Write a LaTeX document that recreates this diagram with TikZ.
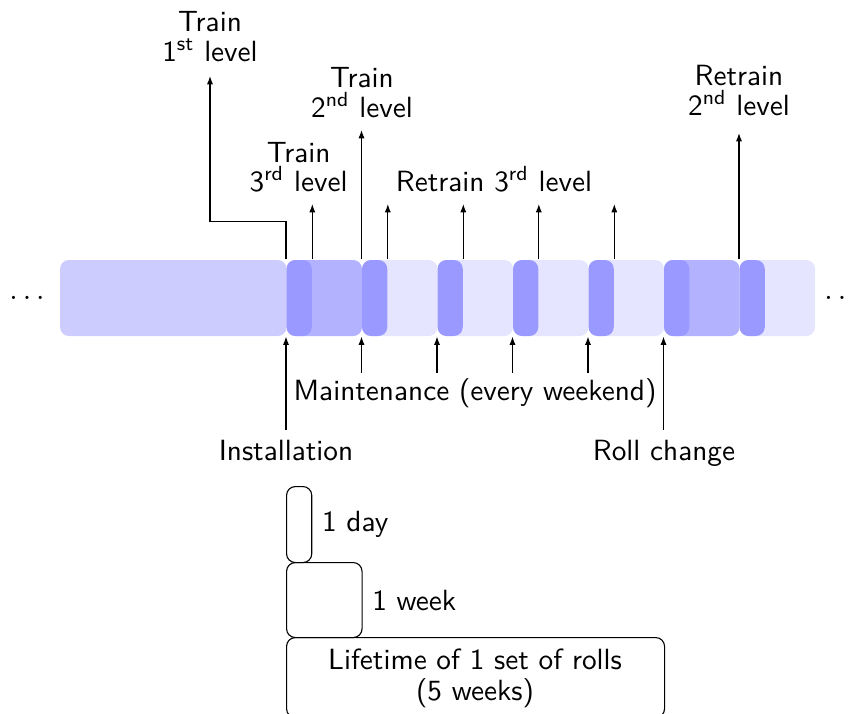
\documentclass[tikz,border=0pt]{standalone}
\usetikzlibrary{arrows.meta}
\colorlet{bigfill}{blue!20}
\colorlet{midfill}{blue!30}
\colorlet{lightfill}{blue!10}
\colorlet{dayfill}{blue!40}
\def\u{0.3623pt}
\tikzset{
  blk/.style={draw=none, inner sep=0pt, rounded corners=3.2pt, minimum height=76*\u, anchor=west},
  weekblk/.style={blk, minimum width=75.5*\u},
  dayblk/.style={blk, minimum width=25.2*\u, fill=dayfill},
  lbl/.style={align=center, inner sep=0pt},
  legendbox/.style={draw, line width=0.4pt, rounded corners=3.2pt, inner sep=0pt},
  arr/.style={-{Latex[length=3pt,width=2.2pt]}, line width=0.4pt},
}
\begin{document}
\begin{tikzpicture}[x=\u, y=-\u, font=\sffamily\fontsize{10.6}{10.8}\selectfont]
\useasboundingbox (0,0) rectangle (853,713);

% time line
\node[blk, minimum width=226.5*\u, fill=bigfill] (w0) at (59.5,298) {};
\foreach \k/\c in {1/midfill,2/lightfill,3/lightfill,4/lightfill,5/lightfill,6/midfill,7/lightfill}
  \node[weekblk, fill=\c] (w\k) at ({286+(\k-1)*75.5},298) {};
\foreach \k in {1,...,7}
  \node[dayblk] (d\k) at (w\k.west) {};
\node (dl) at (27,298) {$\ldots$};
\node (dr) at (842,298) {$\ldots$};

% events above
\node[lbl, anchor=south] (t1) at (210,62) {Train\\1\textsuperscript{st} level};
\node[lbl, anchor=south] (t3) at (298.6,193) {Train\\3\textsuperscript{rd} level};
\node[lbl, anchor=south] (t2) at (362,118) {Train\\2\textsuperscript{nd} level};
\node[lbl, anchor=south] (r3) at (494,193) {Retrain 3\textsuperscript{rd} level};
\node[lbl, anchor=south] (r2) at (739,116) {Retrain\\2\textsuperscript{nd} level};
\coordinate (t1a) at (210,76);
\coordinate (ra) at (0,204);
\coordinate (t2a) at (0,130);
\coordinate (r2a) at (0,133);

\draw[arr] (w1.north west) -- ++(0,-38) -| (t1a);
\draw[arr] (d1.north east) -- (d1.north east |- ra);
\draw[arr] (w2.north west) -- (w2.north west |- t2a);
\foreach \k in {2,...,5}
  \draw[arr] (d\k.north east) -- (d\k.north east |- ra);
\draw[arr] (w7.north west) -- (w7.north west |- r2a);

% events below
\node[lbl, anchor=base] (mt) at (475,400) {Maintenance (every weekend)};
\node[lbl, anchor=base] (inst) at (286,460) {Installation};
\node[lbl, anchor=base] (rc) at (664,460) {Roll change};
\coordinate (mta) at (0,373);
\coordinate (ba) at (0,430);
\draw[arr] (w1.south west |- ba) -- (w1.south west);
\foreach \k in {2,...,5}
  \draw[arr] (w\k.south west |- mta) -- (w\k.south west);
\draw[arr] (w6.south west |- ba) -- (w6.south west);

% legend
\node[legendbox, minimum width=25.2*\u, minimum height=76*\u, anchor=north west] (lday) at (286,486) {};
\node[legendbox, minimum width=75.5*\u, minimum height=75*\u, anchor=north west] (lweek) at (286,562) {};
\node[legendbox, minimum width=378*\u, minimum height=80*\u, anchor=north west] (llife) at (286,637) {};
\node[lbl, anchor=base] (ltxt1) at (475,669) {Lifetime of 1 set of rolls};
\node[lbl, anchor=base] (ltxt2) at (475,700) {(5 weeks)};
\node[anchor=west] (dlab) at (lday.east) {1 day};
\node[anchor=west] (wlab) at (lweek.east) {1 week};
\end{tikzpicture}
\end{document}
